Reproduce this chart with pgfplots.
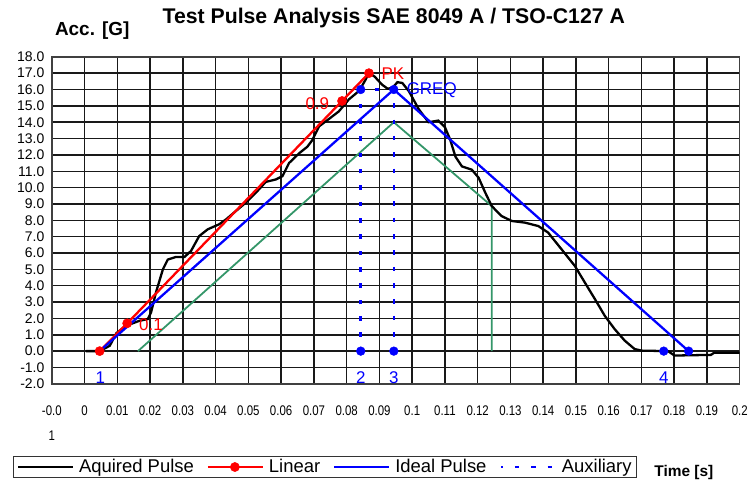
\documentclass[border=0pt]{standalone}
\usepackage{pgfplots}
\pgfplotsset{compat=1.18}
\usepackage{graphicx}
\usepackage{fontspec}
\setmainfont{Liberation Sans}
\definecolor{tolgreen}{RGB}{52,150,105}
\newcommand{\xl}[1]{\scalebox{0.82}[1]{#1}}
\begin{document}
\begin{tikzpicture}
\path (-52pt,-108pt) rectangle (699pt,385pt);
\begin{axis}[
  at={(0pt,0pt)}, anchor=south west, name=ax,
  scale only axis, width=690pt, height=328pt,
  xmin=-0.01, xmax=0.2, ymin=-2, ymax=18,
  xtick={-0.01,0,0.01,0.02,0.03,0.04,0.05,0.06,0.07,0.08,0.09,0.1,0.11,0.12,0.13,0.14,0.15,0.16,0.17,0.18,0.19,0.2},
  xticklabels={{\xl{-0.0}\\[11pt]\xl{1}},\xl{0},\xl{0.01},\xl{0.02},\xl{0.03},\xl{0.04},\xl{0.05},\xl{0.06},\xl{0.07},\xl{0.08},\xl{0.09},\xl{0.1},\xl{0.11},\xl{0.12},\xl{0.13},\xl{0.14},\xl{0.15},\xl{0.16},\xl{0.17},\xl{0.18},\xl{0.19},\xl{0.2}},
  ytick={-2,-1,0,1,2,3,4,5,6,7,8,9,10,11,12,13,14,15,16,17,18},
  yticklabels={-2.0,-1.0,0.0,1.0,2.0,3.0,4.0,5.0,6.0,7.0,8.0,9.0,10.0,11.0,12.0,13.0,14.0,15.0,16.0,17.0,18.0},
  major tick length=0pt,
  xticklabel style={font=\fontsize{14}{15}\selectfont, align=center, anchor=north, yshift=-18pt},
  yticklabel style={font=\fontsize{14}{15}\selectfont, anchor=east, xshift=-4pt},
  grid=major,
  grid style={black!90, line width=1.5pt},
  axis line style={draw=black!75, line width=1.5pt},
  legend columns=4,
  legend style={at={(axis description cs:-0.0551,-0.2226)}, anchor=north west,
    draw=black!80, line width=1pt, font=\fontsize{18.5}{21}\selectfont,
    inner xsep=3pt, inner ysep=1pt, outer sep=0pt,
    /tikz/every even column/.append style={column sep=11pt},
    /tikz/every odd column/.append style={column sep=3pt}},
  legend image code/.code={\draw[mark repeat=2,mark phase=2,#1] plot coordinates {(0pt,0pt) (27pt,0pt) (55pt,0pt)};},
]
% tolerance (green)
\addplot[tolgreen, line width=1.8pt, forget plot] coordinates {
(0.0163,0) (0.0944,14) (0.1243,8.87) (0.1243,0)};
% acquired pulse
\addplot[black, line width=2.3pt] coordinates {
(0.0004,0) (0.0046,0) (0.0077,0.33) (0.0097,1.1) (0.0127,1.55) (0.0168,1.86) (0.0193,1.96) (0.0203,2.37) (0.0218,3.6) (0.0239,5.0) (0.0254,5.6) (0.0279,5.76) (0.0305,5.76) (0.0325,6.13) (0.035,7.04) (0.0376,7.45) (0.0411,7.76) (0.0432,8.06) (0.0462,8.57) (0.0492,9.08) (0.0523,9.69) (0.0553,10.35) (0.0584,10.5) (0.0604,10.7) (0.0624,11.5) (0.0655,12.1) (0.068,12.5) (0.0695,12.9) (0.0716,13.75) (0.0746,14.2) (0.0776,14.66) (0.0807,15.4) (0.0837,15.9) (0.0855,16.5) (0.0868,17.0) (0.0885,16.8) (0.0908,16.3) (0.0925,16.05) (0.094,16.1) (0.0955,16.45) (0.097,16.4) (0.099,15.9) (0.102,14.8) (0.105,14.0) (0.108,14.1) (0.110,13.7) (0.1116,12.94) (0.1132,11.9) (0.1152,11.3) (0.1182,11.1) (0.1203,10.6) (0.1223,9.7) (0.1243,8.87) (0.1273,8.26) (0.1304,7.96) (0.1344,7.86) (0.1385,7.65) (0.1415,7.25) (0.1456,6.23) (0.1497,5.2) (0.1527,4.2) (0.1558,3.18) (0.1588,2.16) (0.1618,1.35) (0.1649,0.64) (0.1679,0.13) (0.17,0.03) (0.1781,0.0) (0.1801,-0.27) (0.1912,-0.23) (0.1922,-0.1) (0.2,-0.1)};
\addlegendentry{Aquired Pulse}
% linear
\addplot[red, line width=2.3pt, mark=*, mark size=4.6pt, mark options={fill=red, draw=red, line width=0.5pt}] coordinates {
(0.0046,0) (0.013,1.7) (0.0786,15.3) (0.0868,17.0)};
\addlegendentry{Linear}
% ideal
\addplot[blue, line width=2.3pt] coordinates {
(0.0046,0) (0.0944,16) (0.1844,0)};
\addlegendentry{Ideal Pulse}
% auxiliary
\addplot[blue, line width=2.6pt, dash pattern=on 4.5pt off 11.9pt, dash phase=2.2pt] coordinates {
(0.0843,0) (0.0843,16) (0.0944,16) (0.0944,0)};
\addlegendentry{Auxiliary}
% auxiliary markers
\addplot[only marks, blue, mark=*, mark size=4.4pt, forget plot] coordinates {
(0.0843,16) (0.0944,16) (0.0843,0) (0.0944,0) (0.1768,0) (0.1844,0)};
\node[red, anchor=west, font=\fontsize{17}{18}\selectfont, inner sep=1pt] at (axis cs:0.0163,1.6) {0.1};
\node[red, anchor=east, font=\fontsize{17}{18}\selectfont, inner sep=1pt] at (axis cs:0.0750,15.15) {0.9};
\node[red, anchor=west, font=\fontsize{17}{18}\selectfont, inner sep=1pt] at (axis cs:0.0903,16.95) {PK};
\node[blue, anchor=west, font=\fontsize{17}{18}\selectfont, inner sep=1pt] at (axis cs:0.0980,15.95) {GREQ};
\node[blue, font=\fontsize{17}{18}\selectfont, inner sep=0pt] at (axis cs:0.0048,-1.63) {1};
\node[blue, font=\fontsize{17}{18}\selectfont, inner sep=0pt] at (axis cs:0.0843,-1.63) {2};
\node[blue, font=\fontsize{17}{18}\selectfont, inner sep=0pt] at (axis cs:0.0944,-1.63) {3};
\node[blue, font=\fontsize{17}{18}\selectfont, inner sep=0pt] at (axis cs:0.1768,-1.63) {4};
\end{axis}
\node[font=\bfseries\fontsize{21.3}{23}\selectfont, inner sep=0pt] at (343pt,367pt) {Test Pulse Analysis SAE 8049 A / TSO-C127 A};
\node[font=\bfseries\fontsize{19}{21}\selectfont, anchor=west, inner sep=0pt] at (3pt,354pt) {Acc. [G]};
\node[font=\bfseries\fontsize{15.5}{18}\selectfont, inner sep=0pt] at (634pt,-89pt) {Time [s]};
\end{tikzpicture}
\end{document}
